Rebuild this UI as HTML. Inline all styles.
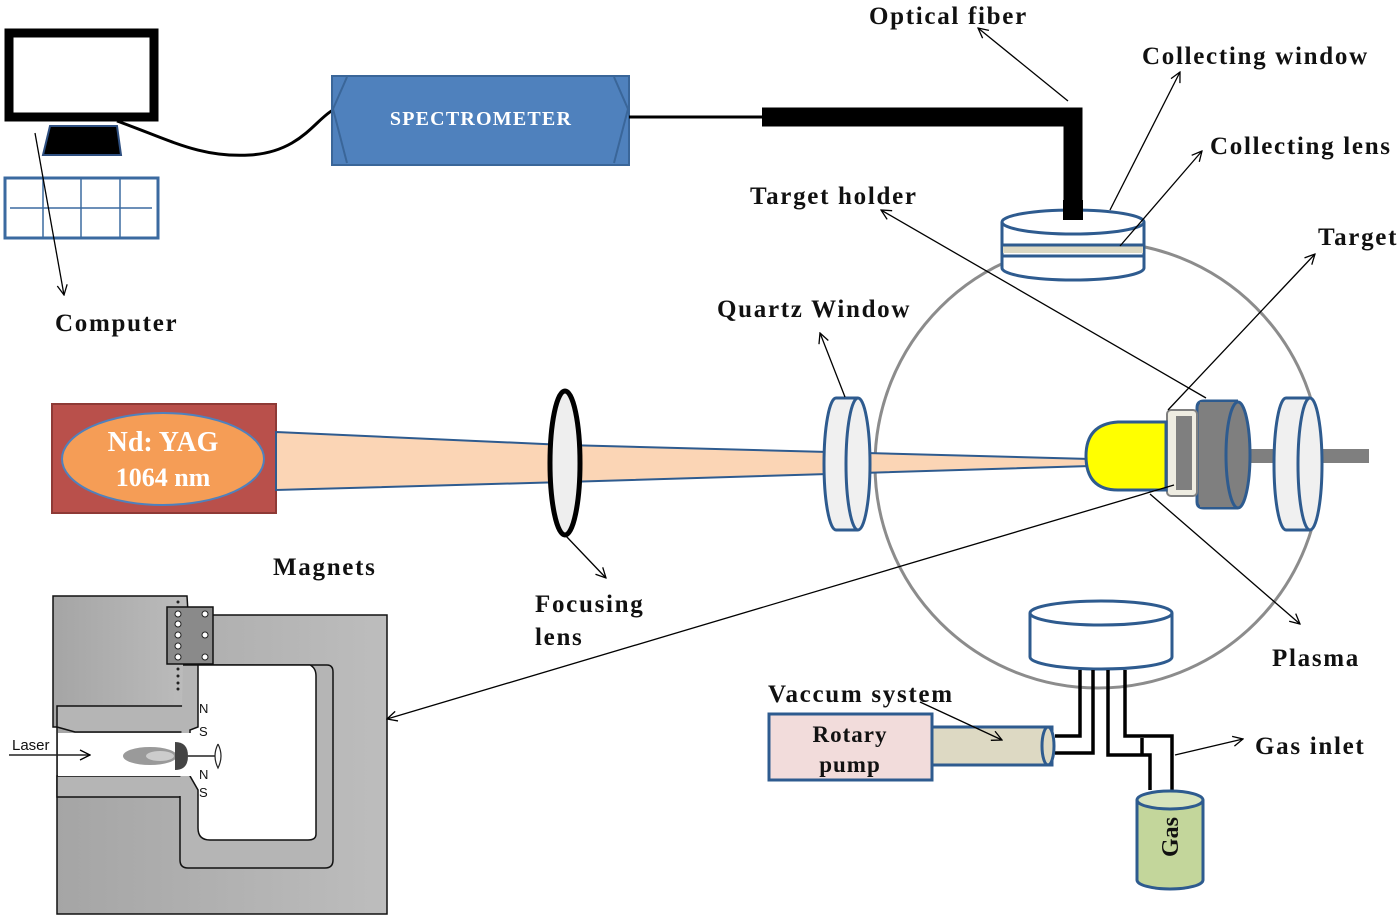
<!DOCTYPE html>
<html><head><meta charset="utf-8"><style>
html,body{margin:0;padding:0;background:#fff;}
svg{display:block;}
text{font-family:"Liberation Serif",serif;font-weight:bold;fill:#111;}
.lb text{letter-spacing:1.7px;}
</style></head><body>
<svg width="1400" height="924" viewBox="0 0 1400 924" xmlns="http://www.w3.org/2000/svg">
<defs>
<marker id="ah" viewBox="0 0 12 12" refX="11" refY="6" markerWidth="12" markerHeight="12" markerUnits="userSpaceOnUse" orient="auto">
<path d="M1,1 L11,6 L1,11" fill="none" stroke="#000" stroke-width="1.3"/>
</marker>
<linearGradient id="lg" x1="0" x2="1"><stop offset="0" stop-color="#a5a5a5"/><stop offset="1" stop-color="#bdbdbd"/></linearGradient>
</defs>

<!-- Computer -->
<rect x="9" y="33" width="145" height="84" fill="#fff" stroke="#000" stroke-width="9"/>
<polygon points="50,126 117,126 121,155 43,155" fill="#000" stroke="#2e4f80" stroke-width="2"/>
<rect x="5" y="178" width="153" height="60" fill="#fff" stroke="#3b6aa0" stroke-width="3"/>
<line x1="10" y1="208" x2="152" y2="208" stroke="#3b6aa0" stroke-width="1.5"/>
<line x1="43" y1="178" x2="43" y2="238" stroke="#3b6aa0" stroke-width="1.5"/>
<line x1="81" y1="178" x2="81" y2="238" stroke="#3b6aa0" stroke-width="1.5"/>
<line x1="120" y1="178" x2="120" y2="238" stroke="#3b6aa0" stroke-width="1.5"/>
<path d="M117,121 C170,140 200,158 250,155 C300,152 315,120 333,110" fill="none" stroke="#000" stroke-width="3"/>

<!-- Spectrometer -->
<rect x="332" y="76" width="297" height="89" fill="#4f81bd" stroke="#3a6699" stroke-width="2"/>
<polyline points="347,77 333,109 347,163" fill="none" stroke="#3a6699" stroke-width="2"/>
<polyline points="614,77 628,109 614,163" fill="none" stroke="#3a6699" stroke-width="2"/>
<text x="481" y="125" font-size="20" text-anchor="middle" style="fill:#fff;letter-spacing:1.2px">SPECTROMETER</text>
<line x1="629" y1="117" x2="765" y2="117" stroke="#000" stroke-width="3"/>
<polyline points="762,117 1073,117 1073,221" fill="none" stroke="#000" stroke-width="19"/>

<!-- chamber -->
<circle cx="1098" cy="465" r="223" fill="none" stroke="#8c8c8c" stroke-width="3"/>

<!-- collecting window cylinder -->
<path d="M1002,222 L1002,268 A71,12 0 0 0 1144,268 L1144,222" fill="#fff" stroke="#2e5b8f" stroke-width="3"/>
<rect x="1003" y="246" width="140" height="7" fill="#ddd9c3"/>
<line x1="1002" y1="245" x2="1144" y2="245" stroke="#2e5b8f" stroke-width="3"/>
<line x1="1002" y1="256" x2="1144" y2="256" stroke="#2e5b8f" stroke-width="3"/>
<ellipse cx="1073" cy="222" rx="71" ry="12" fill="#fff" stroke="#2e5b8f" stroke-width="3"/>
<rect x="1063" y="200" width="20" height="20" fill="#000"/>

<!-- Laser -->
<rect x="52" y="404" width="224" height="109" fill="#b9504b" stroke="#8e3a36" stroke-width="2"/>
<ellipse cx="163" cy="459" rx="101" ry="46" fill="#f59d56" stroke="#4f81bd" stroke-width="2"/>
<text x="163" y="451" font-size="28" text-anchor="middle" style="fill:#fff">Nd: YAG</text>
<text x="163" y="486" font-size="26" text-anchor="middle" style="fill:#fff">1064 nm</text>

<!-- beam -->
<polygon points="276,432 565,445 1090,459 1090,466 565,482 276,490" fill="#fbd5b5" stroke="#2e5b8f" stroke-width="2"/>
<ellipse cx="565" cy="463" rx="15" ry="72" fill="#eeeeee" stroke="#000" stroke-width="5"/>

<!-- quartz window left -->
<rect x="836" y="398" width="22" height="132" fill="#f0f0f0"/>
<line x1="836" y1="398" x2="858" y2="398" stroke="#2e5b8f" stroke-width="3"/>
<line x1="836" y1="530" x2="858" y2="530" stroke="#2e5b8f" stroke-width="3"/>
<path d="M836,398 A12,66 0 0 0 836,530" fill="#f0f0f0" stroke="#2e5b8f" stroke-width="3"/>
<ellipse cx="858" cy="464" rx="12" ry="66" fill="#f0f0f0" stroke="#2e5b8f" stroke-width="3"/>

<!-- rod -->
<rect x="1245" y="449" width="124" height="14" fill="#7f7f7f"/>

<!-- right window -->
<rect x="1286" y="398" width="24" height="132" fill="#f0f0f0"/>
<path d="M1310,398 L1286,398 A12,66 0 0 0 1286,530 L1310,530" fill="#f0f0f0" stroke="#2e5b8f" stroke-width="3"/>
<ellipse cx="1310" cy="464" rx="12" ry="66" fill="#f0f0f0" stroke="#2e5b8f" stroke-width="3"/>

<!-- target holder -->
<path d="M1238,401 L1204,401 Q1197,401 1197,408 L1197,502 Q1197,508 1204,508 L1238,508" fill="#7f7f7f" stroke="#2e5b8f" stroke-width="3"/>
<rect x="1200" y="402" width="38" height="105" fill="#7f7f7f"/>
<ellipse cx="1238" cy="455" rx="12" ry="53" fill="#7f7f7f" stroke="#2e5b8f" stroke-width="3"/>
<!-- target -->
<rect x="1167" y="410" width="30" height="86" rx="4" fill="#eeece1" stroke="#7f7f7f" stroke-width="2"/>
<rect x="1176" y="416" width="16" height="74" fill="#7f7f7f"/>
<!-- plasma -->
<path d="M1166,422 L1118,422 Q1086,424 1086,456 Q1086,490 1118,490 L1166,490 Z" fill="#ffff00" stroke="#2e5b8f" stroke-width="3"/>

<!-- bottom cylinder -->
<path d="M1030,613 L1030,657 A71,12 0 0 0 1172,657 L1172,613" fill="#fff" stroke="#2e5b8f" stroke-width="3"/>
<ellipse cx="1101" cy="613" rx="71" ry="12" fill="#fff" stroke="#2e5b8f" stroke-width="3"/>

<!-- pipes -->
<g fill="none" stroke="#000" stroke-width="3.5">
<polyline points="1080,670 1080,736 1055,736"/>
<polyline points="1093,670 1093,753 1055,753"/>
<polyline points="1108,670 1108,755 1150,755 1150,790"/>
<polyline points="1125,670 1125,736 1172,736 1172,792"/>
<polyline points="1142,738 1142,755"/>
</g>

<!-- rotary pump -->
<rect x="932" y="727" width="120" height="38" fill="#ddd9c3" stroke="#2e5b8f" stroke-width="3"/>
<ellipse cx="1048" cy="746" rx="6" ry="19" fill="#ddd9c3" stroke="#2e5b8f" stroke-width="3"/>
<rect x="769" y="714" width="163" height="66" fill="#f2dcdb" stroke="#2e5b8f" stroke-width="3"/>
<text x="850" y="742" font-size="23" text-anchor="middle" style="letter-spacing:1px">Rotary</text>
<text x="850" y="772" font-size="23" text-anchor="middle" style="letter-spacing:1px">pump</text>

<!-- gas -->
<path d="M1137,800 L1137,880 A33,9 0 0 0 1203,880 L1203,800" fill="#c3d69b" stroke="#2e5b8f" stroke-width="3"/>
<ellipse cx="1170" cy="800" rx="33" ry="9" fill="#d7e4bd" stroke="#2e5b8f" stroke-width="3"/>
<text x="0" y="0" font-size="24" text-anchor="middle" transform="translate(1178,837) rotate(-90)">Gas</text>

<!-- magnets illustration -->
<g stroke="#111" stroke-width="1.5">
<rect x="57" y="615" width="330" height="299" fill="url(#lg)"/>
<polygon points="53,596 187,596 195,727 53,727" fill="url(#lg)"/>
<path d="M57,706 L187,706 L195,715 L195,732 L75,732 L57,727 Z" fill="#b5b5b5"/>
<path d="M57,776 L190,776 L190,797 L57,797 Z" fill="#b5b5b5"/>
<path d="M183,665 L327,665 Q333,665 333,672 L333,860 Q333,868 325,868 L188,868 Q180,868 180,860 L180,796" fill="#b5b5b5"/>
<path d="M198,665 L310,665 Q316,668 316,676 L316,834 Q316,840 308,840 L210,840 Q198,840 198,828 L198,790 L190,776 L190,730 L198,727 Z" fill="#fff"/>
<rect x="167" y="607" width="46" height="57" fill="#8a8a8a"/>
</g>
<rect x="58" y="733" width="150" height="43" fill="#fff"/>
<g fill="#fff" stroke="#222" stroke-width="1">
<circle cx="178" cy="614" r="3"/><circle cx="178" cy="624" r="3"/><circle cx="178" cy="635" r="3"/><circle cx="178" cy="646" r="3"/><circle cx="178" cy="657" r="3"/>
<circle cx="205" cy="614" r="3"/><circle cx="205" cy="635" r="3"/><circle cx="205" cy="657" r="3"/>
</g>
<g fill="#222"><circle cx="178" cy="602" r="1.5"/><circle cx="178" cy="669" r="1.5"/><circle cx="178" cy="676" r="1.5"/><circle cx="178" cy="683" r="1.5"/><circle cx="178" cy="689" r="1.5"/></g>
<text x="199" y="713" style="font-family:'Liberation Sans',sans-serif;font-weight:normal;font-size:13px">N</text>
<text x="199" y="736" style="font-family:'Liberation Sans',sans-serif;font-weight:normal;font-size:13px">S</text>
<text x="199" y="779" style="font-family:'Liberation Sans',sans-serif;font-weight:normal;font-size:13px">N</text>
<text x="199" y="797" style="font-family:'Liberation Sans',sans-serif;font-weight:normal;font-size:13px">S</text>
<text x="12" y="750" style="font-family:'Liberation Sans',sans-serif;font-weight:normal;font-size:15px">Laser</text>
<line x1="9" y1="755" x2="90" y2="755" stroke="#222" stroke-width="1.5" marker-end="url(#ah)"/>
<ellipse cx="150" cy="756" rx="27" ry="9" fill="#9a9a9a"/>
<ellipse cx="160" cy="756" rx="14" ry="5" fill="#ccc"/>
<path d="M175,742 Q188,742 188,756 Q188,770 175,770 Z" fill="#444"/>
<line x1="188" y1="756" x2="215" y2="756" stroke="#222" stroke-width="1.5"/>
<path d="M218,744 Q212,756 218,768 Q224,756 218,744" fill="none" stroke="#222" stroke-width="1.2"/>

<!-- annotation arrows -->
<g stroke="#000" stroke-width="1.3" fill="none" marker-end="url(#ah)">
<line x1="1068" y1="101" x2="978" y2="28"/>
<line x1="1110" y1="210" x2="1180" y2="72"/>
<line x1="1120" y1="246" x2="1202" y2="151"/>
<line x1="1206" y1="398" x2="881" y2="210"/>
<line x1="1168" y1="410" x2="1315" y2="254"/>
<line x1="845" y1="397" x2="820" y2="333"/>
<line x1="35" y1="133" x2="64" y2="295"/>
<line x1="565" y1="535" x2="606" y2="578"/>
<line x1="1150" y1="494" x2="1300" y2="624"/>
<line x1="1174" y1="485" x2="387" y2="719"/>
<line x1="920" y1="702" x2="1002" y2="740"/>
<line x1="1175" y1="755" x2="1243" y2="739"/>
</g>

<!-- labels -->
<g font-size="25" class="lb">
<text x="869" y="24">Optical fiber</text>
<text x="1142" y="64">Collecting window</text>
<text x="1210" y="154">Collecting lens</text>
<text x="750" y="204">Target holder</text>
<text x="1318" y="245">Target</text>
<text x="717" y="317">Quartz Window</text>
<text x="55" y="331">Computer</text>
<text x="273" y="575">Magnets</text>
<text x="535" y="612">Focusing</text>
<text x="535" y="645">lens</text>
<text x="1272" y="666">Plasma</text>
<text x="768" y="702">Vaccum system</text>
<text x="1255" y="754">Gas inlet</text>
</g>
</svg>
</body></html>
